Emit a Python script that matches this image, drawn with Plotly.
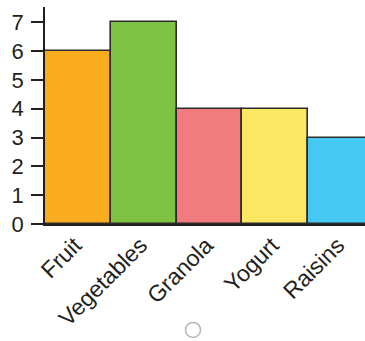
import plotly.graph_objects as go

categories = ["Fruit", "Vegetables", "Granola", "Yogurt", "Raisins"]
values = [6, 7, 4, 4, 3]
colors = ["#F9AC1E", "#7DC243", "#F27B80", "#FBE762", "#45C8F1"]
y_ticks = [0, 1, 2, 3, 4, 5, 6, 7]

fig = go.Figure()
fig.add_trace(go.Bar(
    x=categories, y=values,
    marker=dict(color=colors, line=dict(color="#2b2b2b", width=1.6)),
    width=1.0, showlegend=False,
))

xfont = dict(family="Liberation Sans, Arial, sans-serif", size=23, color="#231f20")
yfont = dict(family="Liberation Sans, Arial, sans-serif", size=22, color="#231f20")

fig.update_layout(
    width=365, height=341,
    margin=dict(l=45, r=0, t=7, b=117),
    paper_bgcolor="white", plot_bgcolor="white",
    bargap=0,
    font=xfont,
    xaxis=dict(
        range=[-0.5, 4.367], showline=True, linecolor="#231f20", linewidth=1.5,
        ticks="", tickangle=-45, tickfont=xfont, showgrid=False, zeroline=False,
        fixedrange=True, ticklabelshift=-3, ticklabelstandoff=-3,
    ),
    yaxis=dict(
        range=[0, 7.53], tickvals=y_ticks, showline=True, linecolor="#231f20",
        linewidth=1.5, ticks="outside", ticklen=12, tickwidth=1.5,
        tickcolor="#231f20", tickfont=yfont, showgrid=False, zeroline=False,
        ticklabelstandoff=3,
    ),
    shapes=[dict(
        type="circle", xref="paper", yref="paper",
        xsizemode="pixel", ysizemode="pixel",
        xanchor=0.4625, yanchor=-0.488,
        x0=-7.5, x1=7.5, y0=-7.5, y1=7.5,
        line=dict(color="#b5b5b5", width=1.5),
    )],
)

fig.write_html("out.html")
